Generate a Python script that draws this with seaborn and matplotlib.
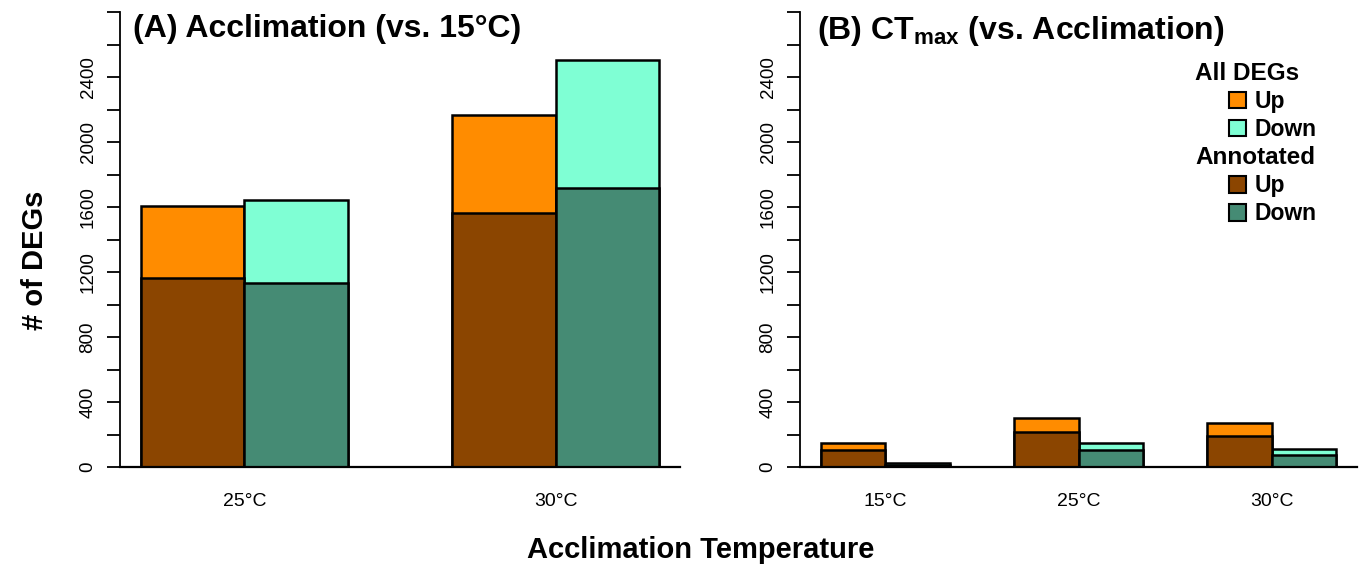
import seaborn as sns
import matplotlib.pyplot as plt
import pandas as pd
from matplotlib.patches import Patch

# panel A: acclimation vs 15C
temps_a = ["25°C", "30°C"]
all_up_a = [1605, 2168]
all_down_a = [1645, 2503]
ann_up_a = [1162, 1565]
ann_down_a = [1135, 1718]

# panel B: CTmax vs acclimation
temps_b = ["15°C", "25°C", "30°C"]
all_up_b = [148, 299, 272]
all_down_b = [27, 150, 111]
ann_up_b = [102, 216, 190]
ann_down_b = [10, 103, 74]

directions = ["Up", "Down"]
yticks = list(range(0, 2801, 200))
ylabels = [str(v) if (v % 400 == 0 and v <= 2400) else "" for v in yticks]

col_all = ["#FF8C00", "#7FFFD4"]   # darkorange, aquamarine
col_ann = ["#8B4500", "#458B74"]   # darkorange4, aquamarine4


def make_df(temps, up, down):
    return pd.DataFrame({
        "temp": temps * 2,
        "dir": ["Up"] * len(temps) + ["Down"] * len(temps),
        "n": list(up) + list(down),
    })


sns.set_style("ticks")
plt.rcParams['font.family'] = ['Liberation Sans', 'DejaVu Sans']
plt.rcParams['mathtext.fontset'] = 'custom'
plt.rcParams['mathtext.rm'] = 'Liberation Sans'
plt.rcParams['mathtext.bf'] = 'Liberation Sans:bold'
plt.rcParams['text.color'] = 'black'
plt.rcParams['xtick.color'] = 'black'
plt.rcParams['ytick.color'] = 'black'
plt.rcParams['axes.edgecolor'] = 'black'

fig = plt.figure(figsize=(13.63, 5.71), dpi=100)
ax1 = fig.add_axes([120 / 1363, 104 / 571, 560 / 1363, 455 / 571])
ax2 = fig.add_axes([800 / 1363, 104 / 571, 557 / 1363, 455 / 571])


def draw_panel(ax, temps, all_up, all_down, ann_up, ann_down, xlim):
    d_all = make_df(temps, all_up, all_down)
    d_ann = make_df(temps, ann_up, ann_down)
    for d, pal in [(d_all, col_all), (d_ann, col_ann)]:
        sns.barplot(data=d, x="temp", y="n", hue="dir", hue_order=directions,
                    order=temps, palette=pal, saturation=1, width=2 / 3, gap=0,
                    errorbar=None, edgecolor="black", linewidth=1.8,
                    legend=False, ax=ax)
    ax.set_xlim(*xlim)
    ax.set_ylim(0, 2800)
    ax.set_xlabel("")
    ax.set_ylabel("")
    ax.set_yticks(yticks)
    ax.set_yticklabels(ylabels, rotation=90, va="center")
    ax.tick_params(axis="y", length=9.4, width=1.3, labelsize=13.5, pad=7.5,
                   colors="black")
    ax.tick_params(axis="x", length=0, labelsize=14, pad=19, colors="black")
    for s in ["top", "right"]:
        ax.spines[s].set_visible(False)
    ax.spines["left"].set_linewidth(1.3)
    ax.spines["bottom"].set_linewidth(1.6)


draw_panel(ax1, temps_a, all_up_a, all_down_a, ann_up_a, ann_down_a, (-0.4, 1.4))
draw_panel(ax2, temps_b, all_up_b, all_down_b, ann_up_b, ann_down_b, (-0.44, 2.44))

ax1.text(0.024, 0.995, "(A) Acclimation (vs. 15°C)", transform=ax1.transAxes,
         fontsize=23, fontweight="bold", va="top", ha="left")
ax2.text(0.03, 0.995, r"(B) CT$_{\mathbf{max}}$ (vs. Acclimation)",
         transform=ax2.transAxes, fontsize=23, fontweight="bold",
         va="top", ha="left")

fig.text(35 / 1363, 1 - 260 / 571, "# of DEGs", rotation=90, fontsize=21,
         fontweight="bold", ha="center", va="center")
fig.text(701 / 1363, 1 - 550 / 571, "Acclimation Temperature", fontsize=21,
         fontweight="bold", ha="center", va="center")

# legend with group headings
blank = Patch(visible=False)
handles = [blank,
           Patch(facecolor=col_all[0], edgecolor="black", linewidth=1.5),
           Patch(facecolor=col_all[1], edgecolor="black", linewidth=1.5),
           blank,
           Patch(facecolor=col_ann[0], edgecolor="black", linewidth=1.5),
           Patch(facecolor=col_ann[1], edgecolor="black", linewidth=1.5)]
labels = ["All DEGs"] + directions + ["Annotated"] + directions
leg = ax2.legend(handles, labels, loc="upper left",
                 bbox_to_anchor=((1229 - 800) / 557, 1 - (62 - 12) / 455),
                 frameon=False, borderpad=0, borderaxespad=0,
                 handlelength=0.75, handleheight=0.75, handletextpad=0.38,
                 labelspacing=0.22, prop={"size": 16.5, "weight": "bold"})
for i in (0, 3):
    leg.get_texts()[i].set_fontsize(17.5)
    leg.get_texts()[i].set_x(-60)

fig.savefig("out.png", dpi=100)
